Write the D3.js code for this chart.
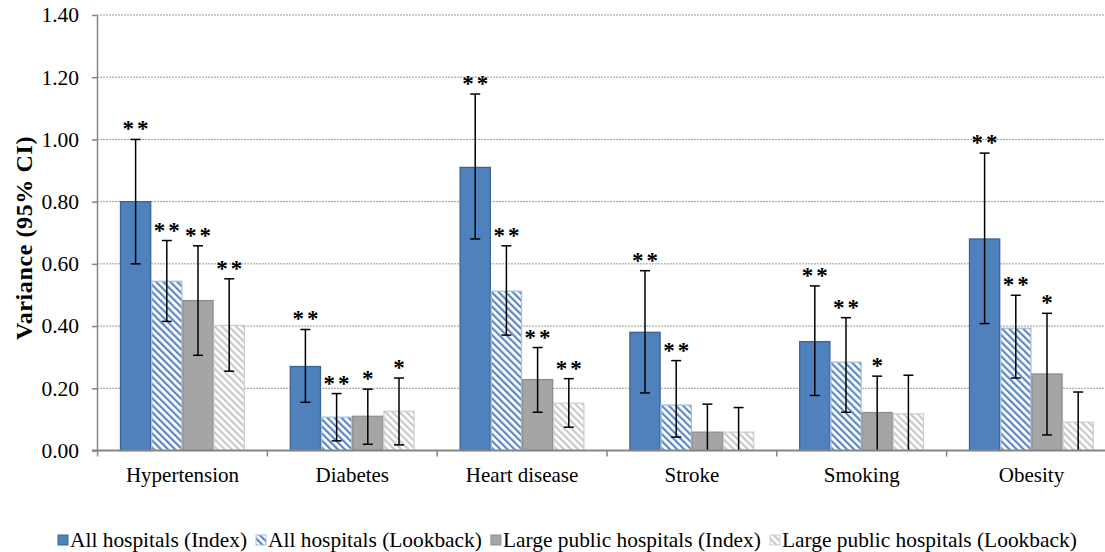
<!DOCTYPE html>
<html>
<head>
<meta charset="utf-8">
<script src="https://cdn.jsdelivr.net/npm/d3@7"></script>
<style>
body{margin:0;background:#fff;}
svg{display:block;font-family:"Liberation Serif","Times New Roman",serif;}
</style>
</head>
<body>
<div id="chart"></div>
<script>
let categories=["Hypertension","Diabetes","Heart disease","Stroke","Smoking","Obesity"];
let seriesNames=["All hospitals (Index)","All hospitals (Lookback)","Large public hospitals (Index)","Large public hospitals (Lookback)"];

// values and 95% CI
let allIndex=[0.80,0.27,0.91,0.38,0.35,0.68];
let allIndexLo=[0.60,0.155,0.68,0.185,0.177,0.408];
let allIndexHi=[1.00,0.389,1.146,0.578,0.529,0.956];
let allLookback=[0.544,0.107,0.512,0.146,0.284,0.393];
let allLookbackLo=[0.415,0.031,0.371,0.043,0.123,0.233];
let allLookbackHi=[0.675,0.183,0.658,0.289,0.427,0.499];
let largeIndex=[0.482,0.110,0.228,0.059,0.122,0.246];
let largeIndexLo=[0.306,0.02,0.123,-0.03,-0.01,0.050];
let largeIndexHi=[0.658,0.197,0.331,0.149,0.239,0.441];
let largeLookback=[0.402,0.126,0.152,0.059,0.118,0.091];
let largeLookbackLo=[0.255,0.018,0.075,-0.02,-0.01,-0.01];
let largeLookbackHi=[0.552,0.233,0.231,0.138,0.242,0.188];

// significance marks
let allIndexSig=["**","**","**","**","**","**"];
let allLookbackSig=["**","**","**","**","**","**"];
let largeIndexSig=["**","*","**","","*","*"];
let largeLookbackSig=["**","*","**","","",""];

let yTicks=[0,0.2,0.4,0.6,0.8,1.0,1.2,1.4];

let width=1105;
let height=552;

let seriesData=[
  {name:seriesNames[0],v:allIndex,lo:allIndexLo,hi:allIndexHi,sig:allIndexSig},
  {name:seriesNames[1],v:allLookback,lo:allLookbackLo,hi:allLookbackHi,sig:allLookbackSig},
  {name:seriesNames[2],v:largeIndex,lo:largeIndexLo,hi:largeIndexHi,sig:largeIndexSig},
  {name:seriesNames[3],v:largeLookback,lo:largeLookbackLo,hi:largeLookbackHi,sig:largeLookbackSig}
];
let fills=["#4F81BD","url(#hatchBlue)","#A5A5A5","url(#hatchGray)"];
let strokes=["#3A6494","#A7BFDE","#8F8F8F","#CFCFCF"];

let svg=d3.select("#chart").append("svg").attr("width",width).attr("height",height);

let defs=svg.append("defs");
function hatch(id,color){
  let p=defs.append("pattern").attr("id",id)
    .attr("patternUnits","userSpaceOnUse")
    .attr("width",5).attr("height",5)
    .attr("patternTransform","rotate(-45)");
  p.append("rect").attr("width",5).attr("height",5).attr("fill","#fff");
  p.append("rect").attr("x",0).attr("y",0).attr("width",2.2).attr("height",5).attr("fill",color);
}
hatch("hatchBlue","#5B88C0");
hatch("hatchGray","#C9C9C9");

let y=d3.scaleLinear().domain([0,1.4]).range([450.5,15]);
let x0=d3.scaleBand().domain(categories).range([97.6,1116.4]).padding(0);
let x1=d3.scaleBand().domain(seriesNames).range([22.4,147.2]).padding(0);

// gridlines
svg.append("g").selectAll("line").data(yTicks.filter(d=>d>0)).enter().append("line")
  .attr("x1",97).attr("x2",width)
  .attr("y1",d=>y(d)).attr("y2",d=>y(d))
  .attr("stroke","#9A9A9A").attr("stroke-width",1).attr("stroke-dasharray","2,1");

// bars
let groups=svg.append("g").selectAll("g").data(seriesData).enter().append("g");
groups.each(function(s,si){
  let g=d3.select(this);
  g.selectAll("rect").data(categories).enter().append("rect")
    .attr("x",(c)=>x0(c)+x1(s.name)+0.5)
    .attr("y",(c,i)=>y(s.v[i]))
    .attr("width",x1.bandwidth()-1)
    .attr("height",(c,i)=>y(0)-y(s.v[i]))
    .attr("fill",fills[si])
    .attr("stroke",strokes[si]).attr("stroke-width",1.3);
});

// axes
let yAxis=d3.axisLeft(y).tickValues(yTicks).tickFormat(d3.format(".2f")).tickSizeInner(5).tickSizeOuter(0).tickPadding(13);
let ya=svg.append("g").attr("transform","translate(97,0)").call(yAxis);
ya.select(".domain").attr("stroke","#868686").attr("stroke-width",1.5);
ya.selectAll(".tick line").attr("stroke","#868686").attr("stroke-width",1.5);
ya.selectAll(".tick text").attr("font-size",21.5).attr("fill","#000").attr("font-family","Liberation Serif");

let xAxis=d3.axisBottom(x0).tickSize(0).tickPadding(17);
let xa=svg.append("g").attr("transform","translate(0,"+y(0)+")").call(xAxis);
xa.select(".domain").remove();
xa.selectAll(".tick text").attr("font-size",21).attr("fill","#000").attr("font-family","Liberation Serif");
xa.append("line").attr("x1",92).attr("x2",width).attr("y1",0).attr("y2",0)
  .attr("stroke","#868686").attr("stroke-width",2);
xa.selectAll(".bound").data(categories).enter().append("line")
  .attr("x1",d=>x0(d)).attr("x2",d=>x0(d)).attr("y1",0).attr("y2",6)
  .attr("stroke","#868686").attr("stroke-width",1.5);

// error bars and stars
groups.each(function(s){
  let g=d3.select(this);
  let cx=(c)=>x0(c)+x1(s.name)+x1.bandwidth()/2;
  g.selectAll(".err").data(categories).enter().append("line")
    .attr("x1",cx).attr("x2",cx)
    .attr("y1",(c,i)=>y(s.hi[i])).attr("y2",(c,i)=>y(Math.max(0,s.lo[i])))
    .attr("stroke","#000").attr("stroke-width",1.5);
  g.selectAll(".capTop").data(categories).enter().append("line")
    .attr("x1",c=>cx(c)-5).attr("x2",c=>cx(c)+5)
    .attr("y1",(c,i)=>y(s.hi[i])).attr("y2",(c,i)=>y(s.hi[i]))
    .attr("stroke","#000").attr("stroke-width",1.5);
  g.selectAll(".capBot").data(categories.filter((c,i)=>s.lo[i]>0)).enter().append("line")
    .attr("x1",c=>cx(c)-5).attr("x2",c=>cx(c)+5)
    .attr("y1",c=>y(s.lo[categories.indexOf(c)])).attr("y2",c=>y(s.lo[categories.indexOf(c)]))
    .attr("stroke","#000").attr("stroke-width",1.5);
  g.selectAll(".sig").data(categories).enter().append("text")
    .attr("x",c=>cx(c)+1.5).attr("y",(c,i)=>y(s.hi[i])-3)
    .attr("text-anchor","middle").attr("font-size",23).attr("font-weight","bold")
    .attr("letter-spacing",3)
    .text((c,i)=>s.sig[i]);
});

// y title
svg.append("text").text("Variance (95% CI)")
  .attr("transform","translate(32,238) rotate(-90)")
  .attr("text-anchor","middle").attr("font-weight","bold").attr("font-size",24)
  .attr("letter-spacing",0.6)
  .attr("font-family","Liberation Serif");

// legend
let legend=svg.append("g").attr("transform","translate(58,547)");
let lx=0;
seriesNames.forEach(function(name,i){
  let item=legend.append("g").attr("transform","translate("+lx+",0)");
  item.append("rect").attr("x",0).attr("y",-12).attr("width",10).attr("height",10)
    .attr("fill",fills[i]).attr("stroke",strokes[i]).attr("stroke-width",1);
  let t=item.append("text").attr("x",12).attr("y",0).attr("font-size",21.4).text(name);
  lx+=12+t.node().getComputedTextLength()+9;
});
</script>
</body>
</html>
